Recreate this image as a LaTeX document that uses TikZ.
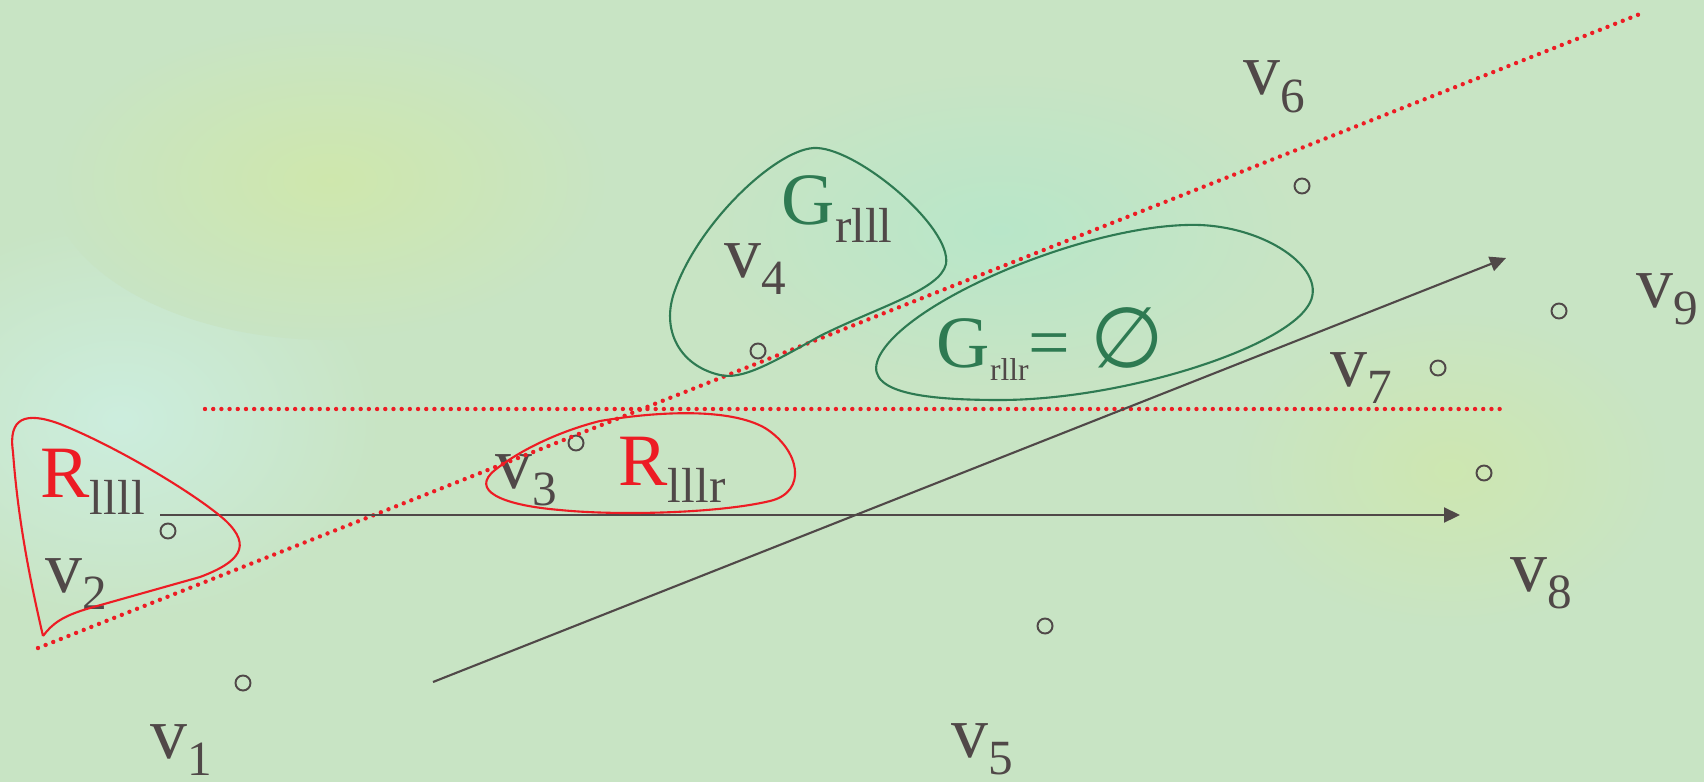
\documentclass[tikz,border=0pt]{standalone}
\usepackage{fontspec}
\setmainfont{Liberation Serif}
\newfontfamily\symfont{DejaVu Sans}
\usetikzlibrary{arrows.meta}

\definecolor{ink}{RGB}{80,72,72}
\definecolor{rred}{RGB}{237,28,36}
\definecolor{gg}{RGB}{46,122,82}
\definecolor{bg}{RGB}{200,228,196}

\newcommand{\bigsz}{\fontsize{21}{21}\selectfont}
\newcommand{\subsz}{\fontsize{14}{14}\selectfont}
\newcommand{\tinysz}{\fontsize{9}{9}\selectfont}
\newcommand{\lowsub}[1]{\raisebox{-0.17cm}{\subsz #1}}

\begin{document}
\begin{tikzpicture}[
  x=0.01cm, y=-0.01cm,
  pt/.style={circle, draw=ink, line width=0.55pt, minimum size=0.15cm, inner sep=0pt},
  lab/.style={font=\bigsz, text=ink, inner sep=0pt, anchor=base west},
  cut/.style={rred, line width=1.25pt, line cap=round, dash pattern=on 0pt off 2.33pt},
  arrow/.style={-{Triangle[length=0.16cm, width=0.15cm]}, ink, line width=0.6pt},
  rblob/.style={rred, line width=0.6pt},
  gblob/.style={gg, line width=0.6pt},
]
\useasboundingbox (0,0) rectangle (1704,782);

% --- background ---
\fill[bg] (0,0) rectangle (1704,782);
\shade[inner color=green!30!teal!20!white, outer color=bg] (120,420) ellipse (260 and 200);
\shade[inner color=yellow!12!bg, outer color=bg] (330,180) ellipse (280 and 160);
\shade[inner color=cyan!8!bg, outer color=bg] (1000,230) ellipse (300 and 160);
\shade[inner color=yellow!10!bg, outer color=bg] (1450,470) ellipse (220 and 160);

% --- points ---
\node[pt] (d1) at (243,683) {};
\node[pt] (d2) at (168,531) {};
\node[pt] (d3) at (576,443) {};
\node[pt] (d4) at (758,351) {};
\node[pt] (d5) at (1045,626) {};
\node[pt] (d6) at (1302,186) {};
\node[pt] (d7) at (1438,368) {};
\node[pt] (d8) at (1484,473) {};
\node[pt] (d9) at (1559,311) {};

% --- point labels ---
\node[lab] (v1) at (150,758) {v\lowsub{1}};
\node[lab] (v2) at (45,592) {v\lowsub{2}};
\node[lab] (v3) at (495,488) {v\lowsub{3}};
\node[lab] (v4) at (724,277) {v\lowsub{4}};
\node[lab] (v5) at (951,757) {v\lowsub{5}};
\node[lab] (v6) at (1243,95) {v\lowsub{6}};
\node[lab] (v7) at (1330,386) {v\lowsub{7}};
\node[lab] (v8) at (1510,591) {v\lowsub{8}};
\node[lab] (v9) at (1636,307) {v\lowsub{9}};

% --- cut lines ---
\coordinate (h1) at (205,409);
\coordinate (h2) at (1503,409);
\coordinate (s1) at (38,648);
\coordinate (s2) at (1640,14);
\draw[cut] (h1) -- (h2);
\draw[cut] (s1) -- (s2);

% --- axes ---
\coordinate (a1) at (160,515);
\coordinate (a2) at (1460,515);
\coordinate (b1) at (433,682);
\coordinate (b2) at (1506,258);
\draw[arrow] (a1) -- (a2);
\draw[arrow] (b1) -- (b2);

% --- regions ---
\draw[rblob] (43,636) .. controls (52,624) and (62,616) .. (90,608)
  -- (200,577) .. controls (240,562) and (252,546) .. (226,521)
  .. controls (200,497) and (120,448) .. (60,424)
  .. controls (25,411) and (8,418) .. (13,452)
  .. controls (18,520) and (30,580) .. (43,636);
\draw[rblob] (600,421) .. controls (660,411) and (730,408) .. (765,428)
  .. controls (800,450) and (808,492) .. (770,501)
  .. controls (720,513) and (620,516) .. (560,510)
  .. controls (500,505) and (470,490) .. (495,470)
  .. controls (520,450) and (560,431) .. cycle;
\draw[gblob] (817,148) .. controls (860,150) and (952,228) .. (946,264)
  .. controls (940,290) and (880,306) .. (820,336)
  .. controls (770,364) and (742,380) .. (720,375)
  .. controls (680,366) and (660,330) .. (675,290)
  .. controls (700,220) and (780,146) .. cycle;
\draw[gblob] (1186,225) .. controls (1262,222) and (1332,270) .. (1308,306)
  .. controls (1280,350) and (1120,400) .. (1000,400)
  .. controls (920,400) and (860,392) .. (880,355)
  .. controls (910,300) and (1080,228) .. cycle;

% --- region labels ---
\node[lab] (rl) at (40,497) {\textcolor{rred}{R}\lowsub{llll}};
\node[lab] (rr) at (618,485) {\textcolor{rred}{R}\lowsub{lllr}};
\node[lab] (gl) at (781,225) {\textcolor{gg}{G}\lowsub{rlll}};
\node[lab] (gr) at (936,367) {\textcolor{gg}{G}\raisebox{-0.13cm}{\tinysz rllr}\textcolor{gg}{=\hspace{0.2cm}{\symfont\fontsize{24}{24}\selectfont ∅}}};

\end{tikzpicture}
\end{document}
